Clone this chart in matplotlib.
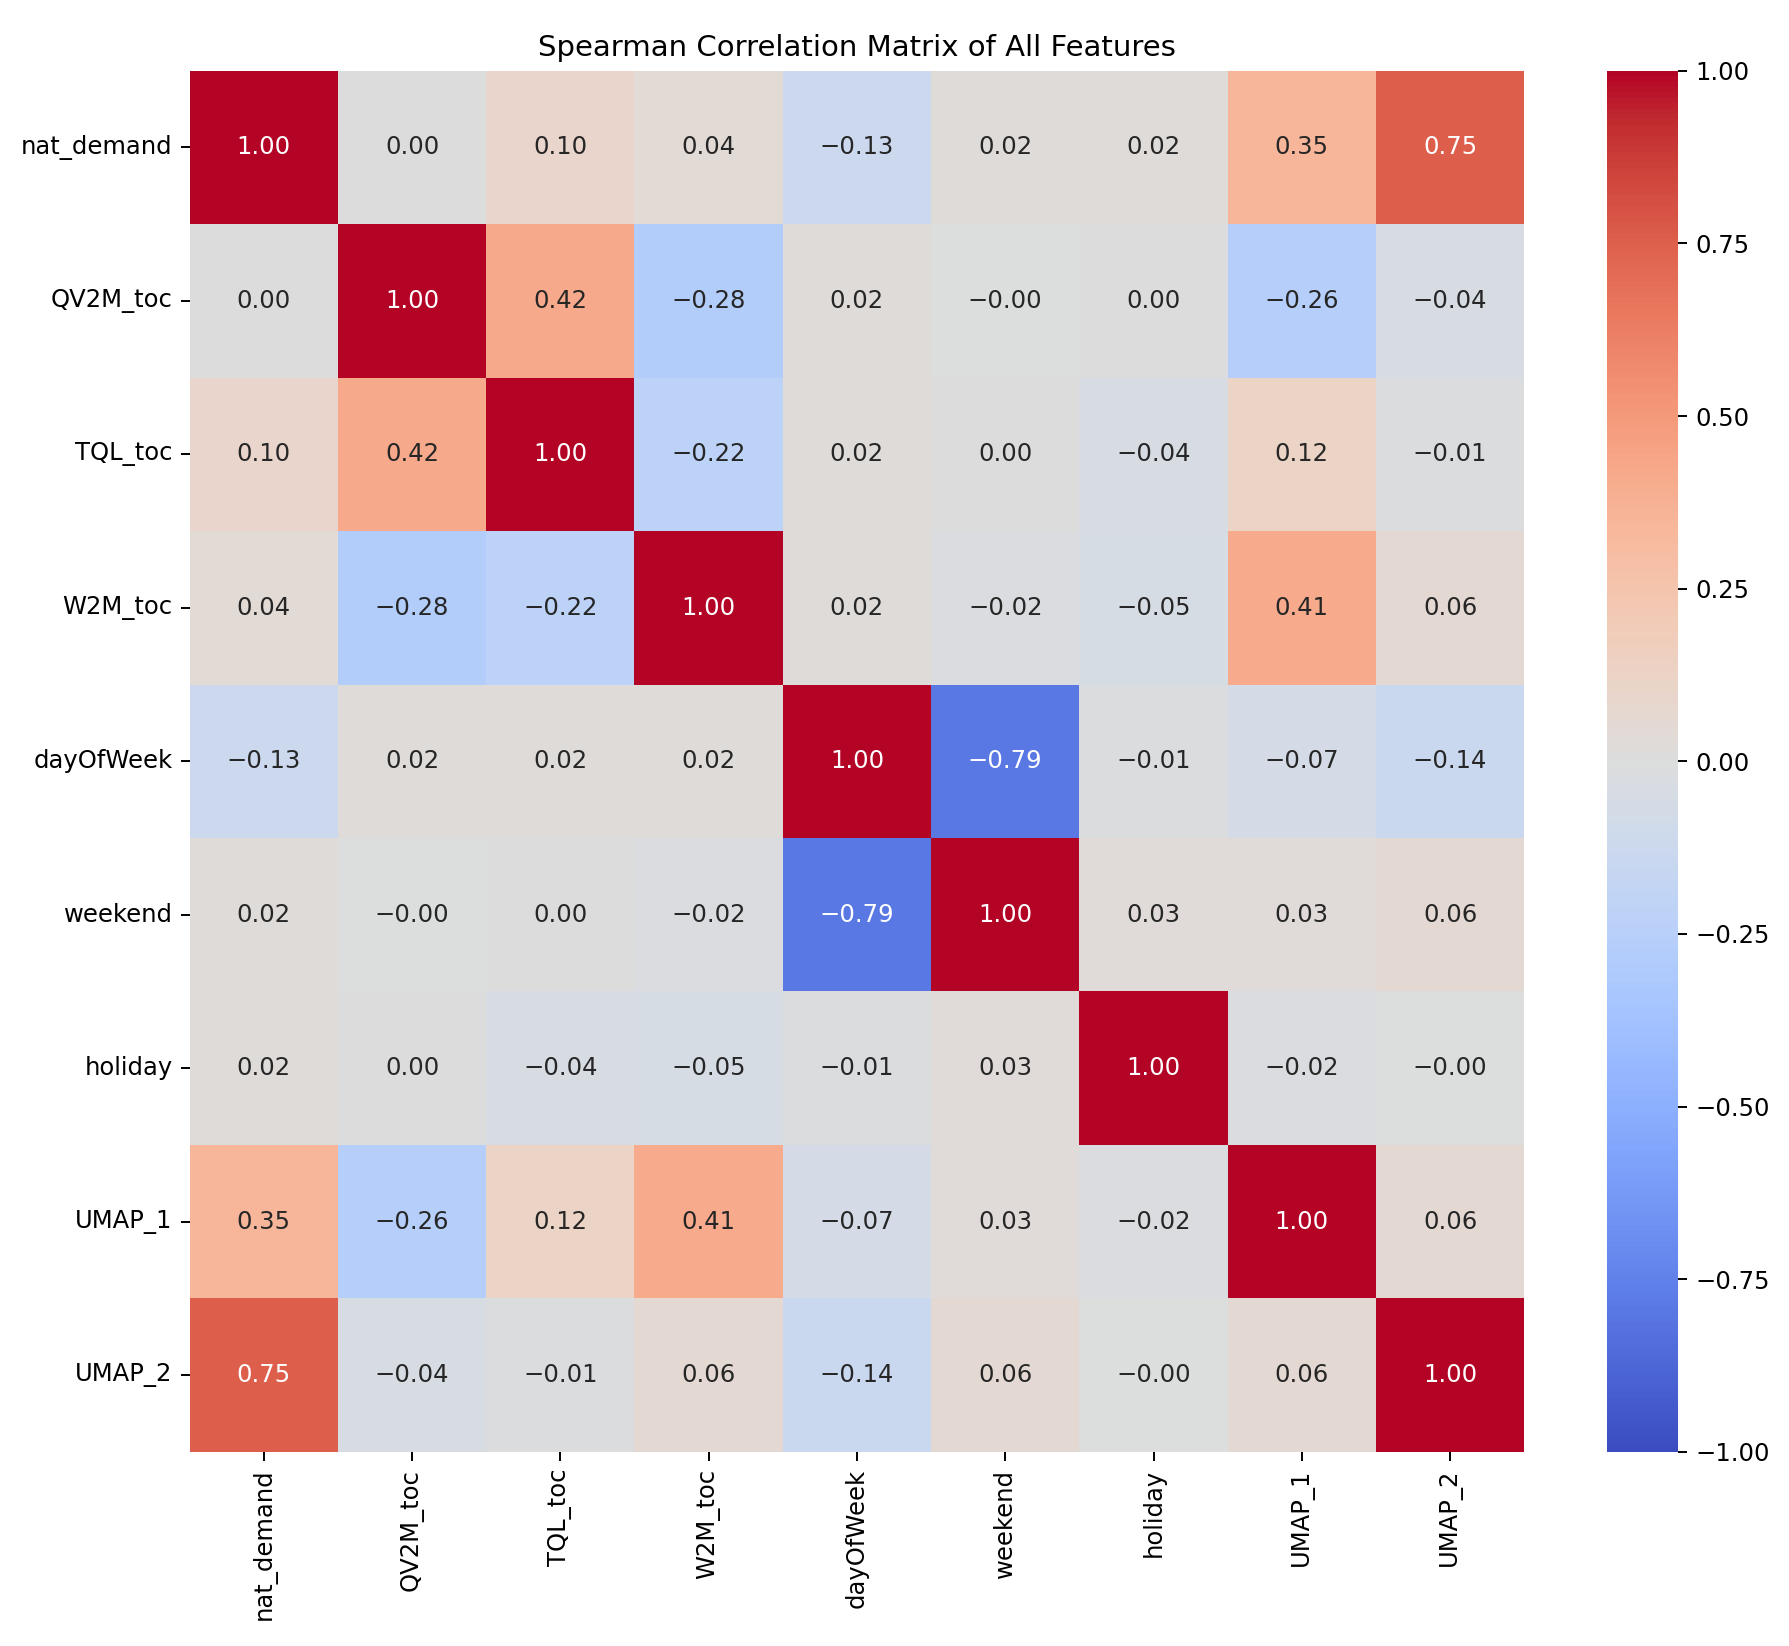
import matplotlib
matplotlib.use("Agg")
import matplotlib.pyplot as plt
import seaborn as sns
import numpy as np
import pandas as pd

features = ["nat_demand", "QV2M_toc", "TQL_toc", "W2M_toc", "dayOfWeek",
            "weekend", "holiday", "UMAP_1", "UMAP_2"]

# values ("-0.00" kept as a tiny negative)
nat_demand = [1.00, 0.00, 0.10, 0.04, -0.13, 0.02, 0.02, 0.35, 0.75]
qv2m_toc = [0.00, 1.00, 0.42, -0.28, 0.02, -0.001, 0.00, -0.26, -0.04]
tql_toc = [0.10, 0.42, 1.00, -0.22, 0.02, 0.00, -0.04, 0.12, -0.01]
w2m_toc = [0.04, -0.28, -0.22, 1.00, 0.02, -0.02, -0.05, 0.41, 0.06]
day_of_week = [-0.13, 0.02, 0.02, 0.02, 1.00, -0.79, -0.01, -0.07, -0.14]
weekend = [0.02, -0.001, 0.00, -0.02, -0.79, 1.00, 0.03, 0.03, 0.06]
holiday = [0.02, 0.00, -0.04, -0.05, -0.01, 0.03, 1.00, -0.02, -0.001]
umap_1 = [0.35, -0.26, 0.12, 0.41, -0.07, 0.03, -0.02, 1.00, 0.06]
umap_2 = [0.75, -0.04, -0.01, 0.06, -0.14, 0.06, -0.001, 0.06, 1.00]

corr = pd.DataFrame([nat_demand, qv2m_toc, tql_toc, w2m_toc, day_of_week,
                     weekend, holiday, umap_1, umap_2],
                    index=features, columns=features)

# annotation text with a proper minus sign
labels = corr.map(lambda v: f"{v:.2f}".replace("-", "\u2212")).values

dpi = 175
fig = plt.figure(figsize=(1789 / dpi, 1646 / dpi), dpi=dpi)
ax = fig.add_axes([0.106, 0.118, 0.746, 0.839])
cax = fig.add_axes([0.898, 0.118, 0.040, 0.839])

sns.heatmap(corr, annot=labels, fmt="", cmap="coolwarm", vmin=-1, vmax=1,
            ax=ax, cbar_ax=cax)
ax.set_title("Spearman Correlation Matrix of All Features")
ax.tick_params(axis="x", labelrotation=90)
ax.tick_params(axis="y", labelrotation=0)

fig.savefig("out.png", dpi=dpi)
